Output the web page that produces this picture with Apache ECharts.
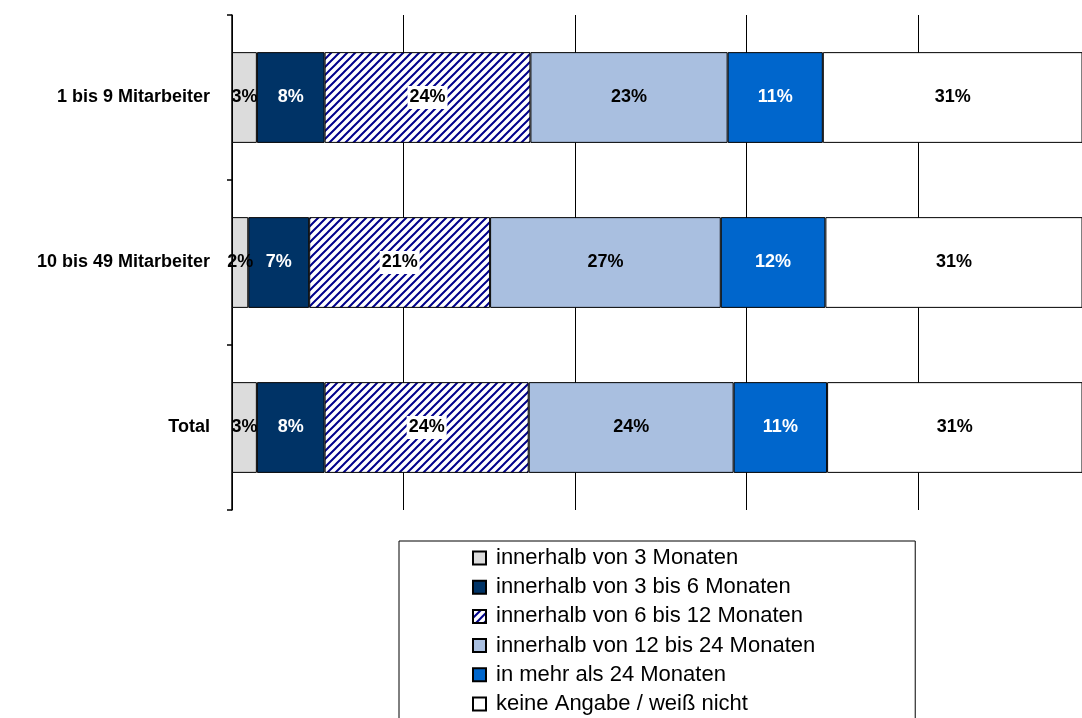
<!DOCTYPE html>
<html lang="de">
<head>
  <meta charset="UTF-8">
  <script src="https://cdn.jsdelivr.net/npm/echarts@6/dist/echarts.min.js"></script>
  <style>
    html, body { margin: 0; padding: 0; background: #fff; }
  </style>
</head>
<body>
<div id="main" style="width:1082px;height:718px;"></div>

<script>
  // Kategorien (von oben nach unten)
  var groups = ['1 bis 9 Mitarbeiter', '10 bis 49 Mitarbeiter', 'Total'];

  // Anteile in %
  var bis3 = [2.9, 1.9, 2.9];
  var bis6 = [7.9, 7.1, 7.9];
  var bis12 = [24.0, 21.1, 23.8];
  var bis24 = [23.0, 26.9, 23.9];
  var mehr24 = [11.1, 12.2, 10.9];
  var keine = [31.1, 30.8, 30.6];

  var names = [
    'innerhalb von 3 Monaten',
    'innerhalb von 3 bis 6 Monaten',
    'innerhalb von 6 bis 12 Monaten',
    'innerhalb von 12 bis 24 Monaten',
    'in mehr als 24 Monaten',
    'keine Angabe / weiß nicht'
  ];

  // Schraffur fuer 6 bis 12 Monate
  function stripes(){
    var n = 8;
    var c = document.createElement('canvas');
    c.width = n; c.height = n;
    var g = c.getContext('2d');
    g.fillStyle = '#fff';
    g.fillRect(0, 0, n, n);
    g.strokeStyle = '#00008b';
    g.lineWidth = 2;
    g.beginPath();
    g.moveTo(-1, n + 1); g.lineTo(n + 1, -1);
    g.moveTo(-1, 1); g.lineTo(1, -1);
    g.moveTo(n - 1, n + 1); g.lineTo(n + 1, n - 1);
    g.stroke();
    return c;
  }

  var main = echarts.init(document.querySelector('#main'));

  function bar(name, data, color, txt, extra){
    var s = {
      name: name,
      type: 'bar',
      stack: 'a',
      barWidth: '55%',
      data: data,
      itemStyle: {color: color, borderColor: '#000', borderWidth: 1},
      label: {
        show: true,
        position: 'inside',
        color: txt,
        fontSize: 18,
        fontWeight: 'bold',
        fontFamily: 'Liberation Sans, Arial, sans-serif',
        formatter: function(p){ return Math.round(p.value) + '%'; }
      }
    };
    if (extra) { Object.assign(s.label, extra); }
    return s;
  }

  main.setOption({
    animation: false,
    // 100 % liegt knapp rechts ausserhalb des Bildes
    grid: {left: 232, top: 15, right: 0, height: 495},
    legend: {
      orient: 'vertical',
      left: 399,
      top: 541,
      height: 200,
      padding: [6, 100, 10, 73],
      borderColor: '#000',
      borderWidth: 1,
      icon: 'rect',
      itemWidth: 13,
      itemHeight: 13,
      itemGap: 7.2,
      textStyle: {
        fontSize: 22,
        lineHeight: 20,
        color: '#000',
        fontFamily: 'Liberation Sans, Arial, sans-serif',
        padding: [0, 0, 0, 5]
      },
      data: names
    },
    xAxis: {
      type: 'value',
      min: 0,
      max: 99.125,
      interval: 20,
      axisLine: {show: false},
      axisTick: {show: false},
      axisLabel: {show: false},
      splitLine: {show: true, lineStyle: {color: '#000', width: 1}}
    },
    yAxis: {
      type: 'category',
      inverse: true,
      data: groups,
      axisLine: {lineStyle: {color: '#000', width: 1.5}},
      axisTick: {show: true, length: 5, lineStyle: {color: '#000', width: 1.5}},
      axisLabel: {
        color: '#000',
        fontSize: 18,
        fontWeight: 'bold',
        fontFamily: 'Liberation Sans, Arial, sans-serif',
        margin: 22
      }
    },
    series: [
      bar(names[0], bis3, '#dcdcdc', '#000'),
      bar(names[1], bis6, '#003366', '#fff'),
      bar(names[2], bis12, {image: stripes(), repeat: 'repeat'}, '#000',
          {backgroundColor: '#fff', padding: [3, 2, 2, 2]}),
      bar(names[3], bis24, '#a9bfe0', '#000'),
      bar(names[4], mehr24, '#0066cc', '#fff'),
      bar(names[5], keine, '#ffffff', '#000')
    ]
  });
</script>
</body>
</html>
